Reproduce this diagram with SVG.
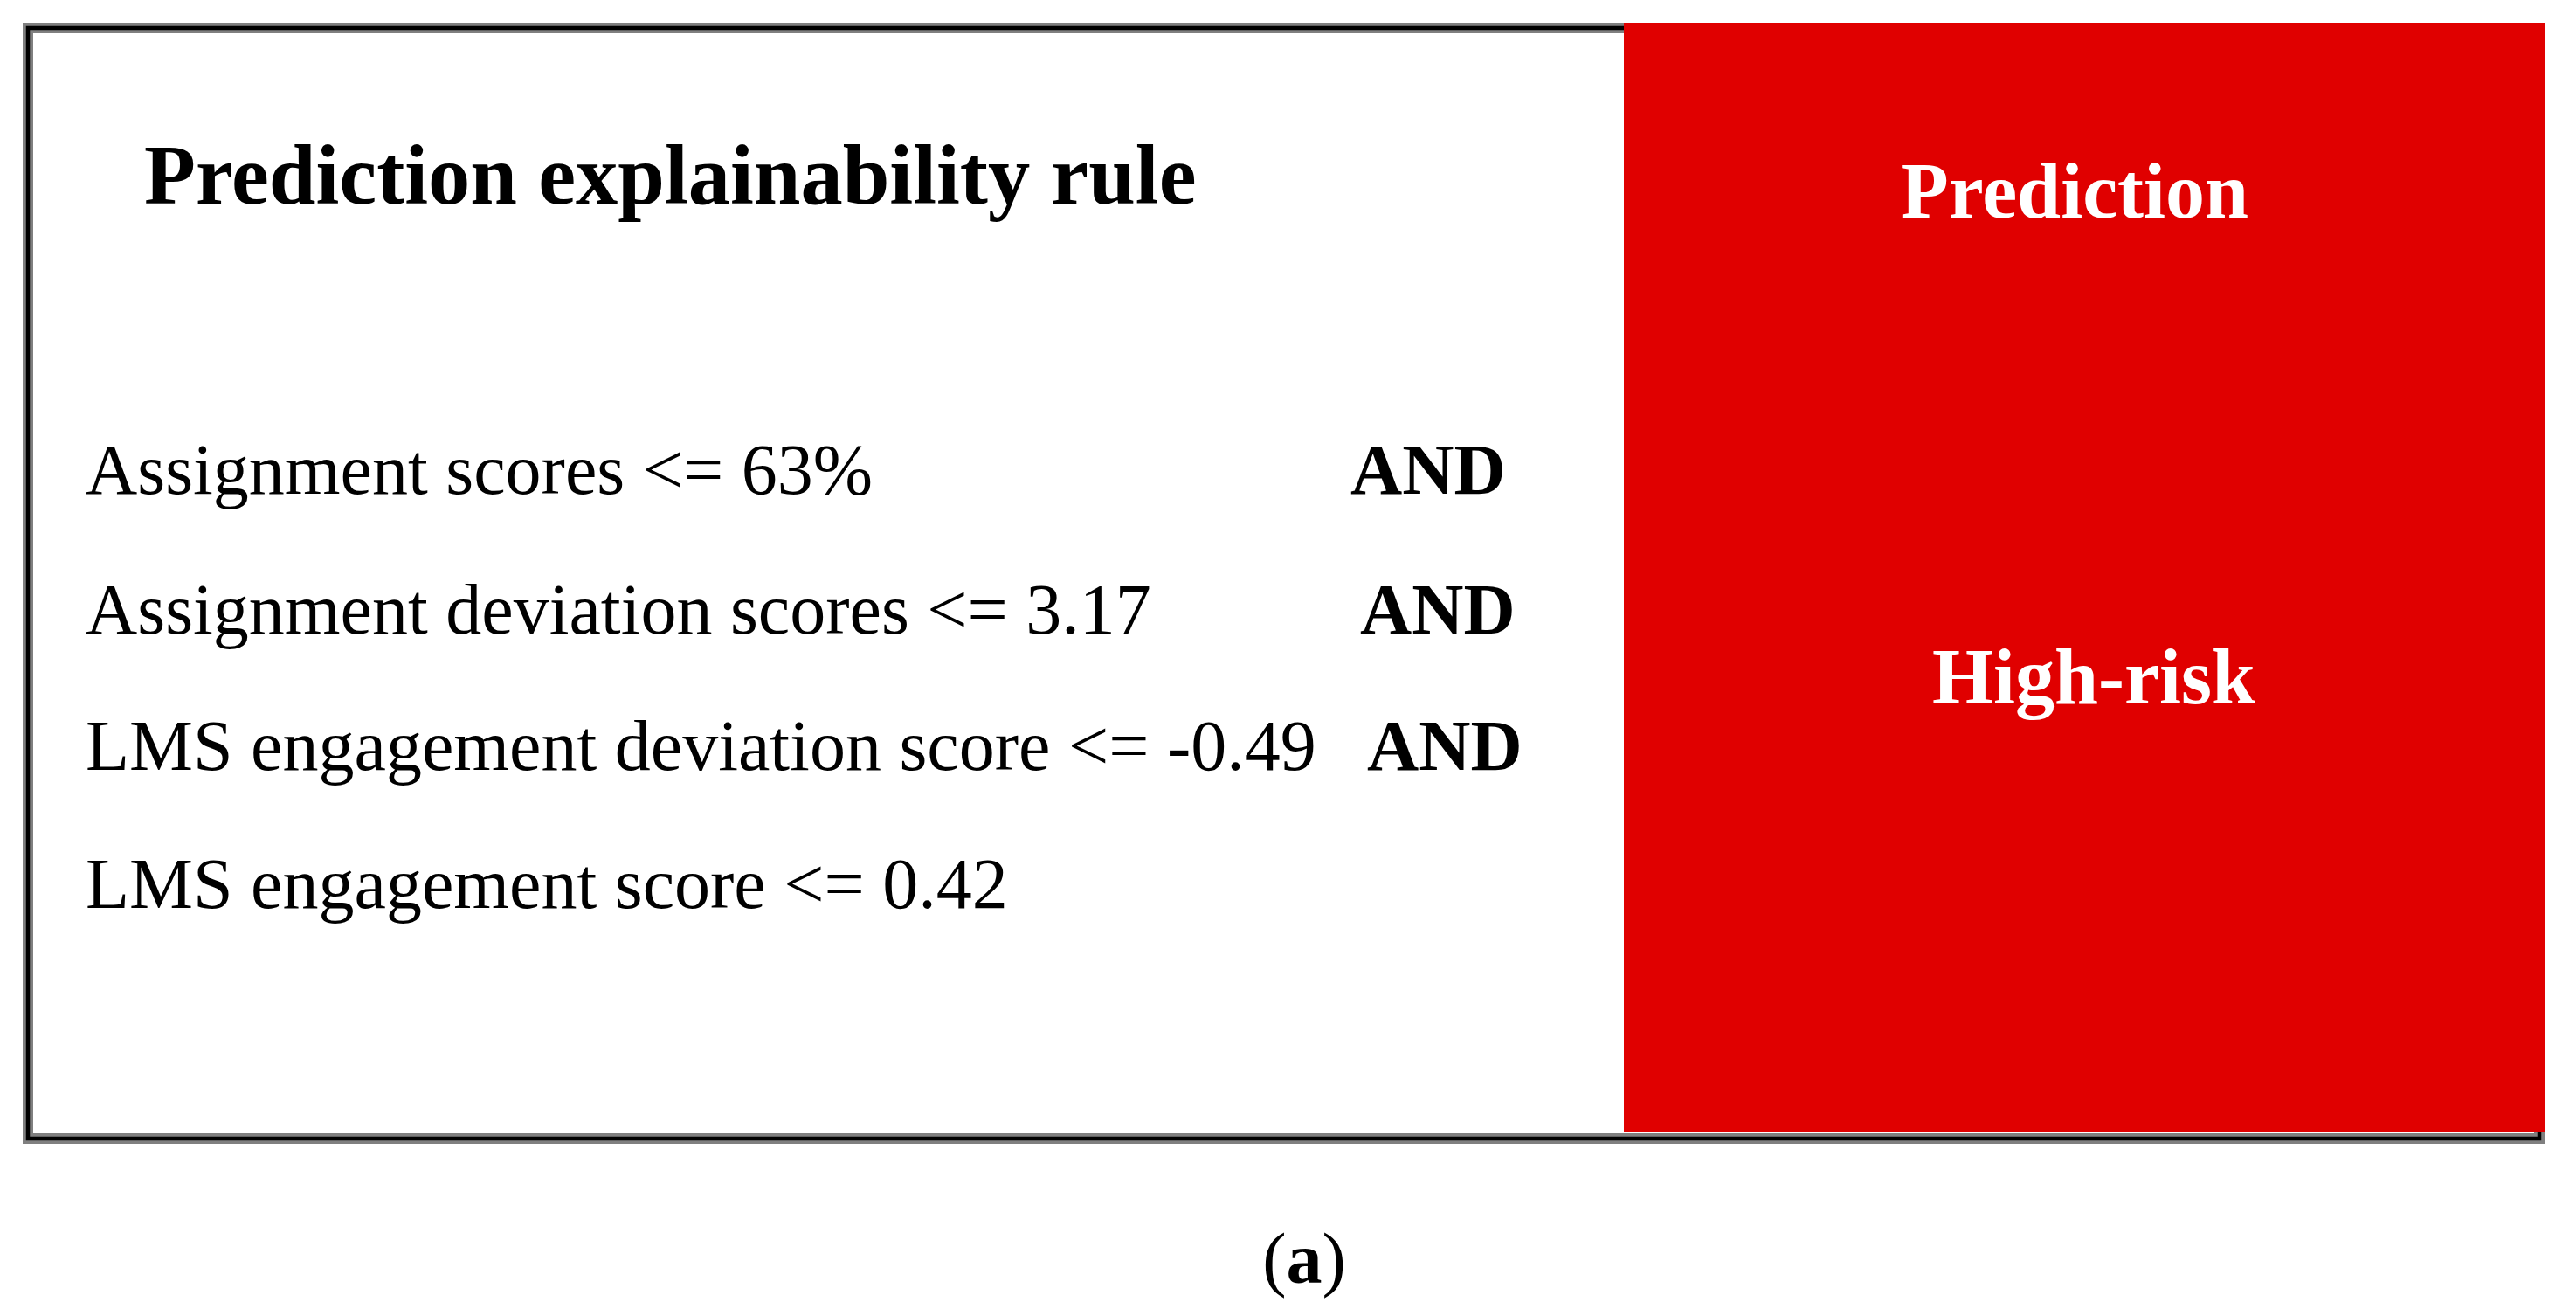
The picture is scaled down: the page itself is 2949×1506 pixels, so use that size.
<svg xmlns="http://www.w3.org/2000/svg" width="2949" height="1506" viewBox="0 0 2949 1506">
  <style>
    .t { font-family: "Liberation Serif", "Times New Roman", serif; fill: #000; }
    .reg { font-size: 82px; }
    .bold { font-weight: bold; }
    .white { fill: #fff; }
  </style>
  <rect width="2949" height="1506" fill="#fff"/>
  <g id="frame">
    <rect x="32" y="32" width="2875" height="1271" fill="#fff" stroke="#808080" stroke-width="12"/>
    <rect x="32" y="32" width="2875" height="1271" fill="none" stroke="#000" stroke-width="4.5"/>
  </g>
  <g id="rule-panel">
    <text class="t bold" x="165" y="233" font-size="96.5">Prediction explainability rule</text>
    <text class="t reg" x="98" y="565">Assignment scores &lt;= 63%</text>
    <text class="t reg bold" x="1546" y="565">AND</text>
    <text class="t reg" x="98" y="725">Assignment deviation scores &lt;= 3.17</text>
    <text class="t reg bold" x="1557" y="725">AND</text>
    <text class="t reg" x="98" y="881">LMS engagement deviation score &lt;= -0.49</text>
    <text class="t reg bold" x="1565" y="881">AND</text>
    <text class="t reg" x="98" y="1039">LMS engagement score &lt;= 0.42</text>
  </g>
  <g id="prediction-panel">
    <rect x="1859" y="26" width="1054" height="1270" fill="#e00000"/>
    <text class="t bold white" x="2375" y="249" font-size="90" text-anchor="middle">Prediction</text>
    <text class="t bold white" x="2397" y="805" font-size="90" text-anchor="middle">High-risk</text>
  </g>
  <g id="caption">
    <text class="t" x="1493" y="1468" font-size="82" text-anchor="middle">(<tspan font-weight="bold">a</tspan>)</text>
  </g>
</svg>
